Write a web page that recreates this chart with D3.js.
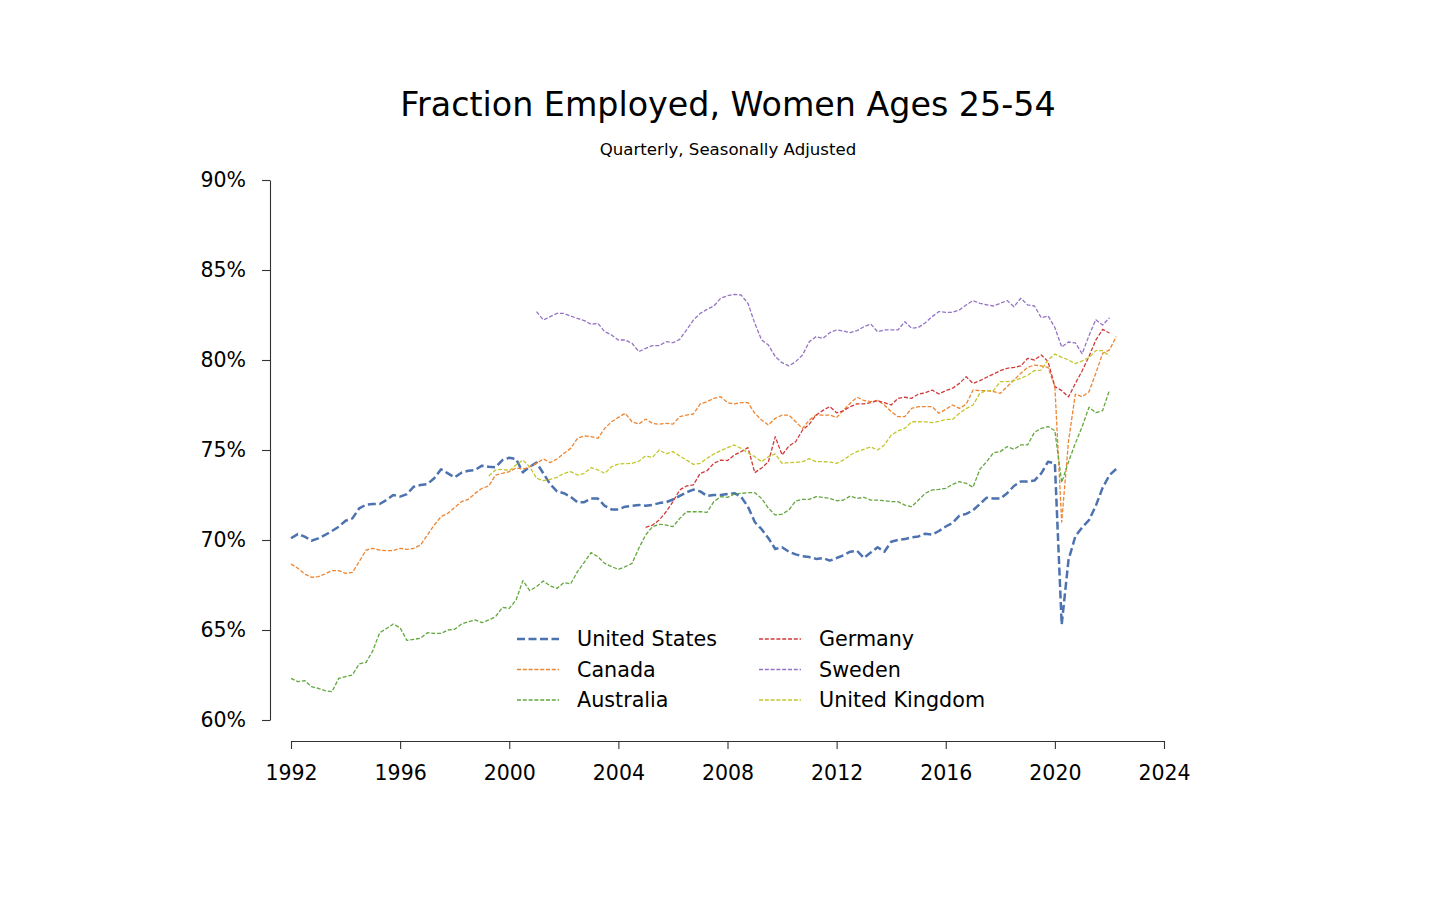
<!DOCTYPE html>
<html>
<head>
<meta charset="utf-8">
<script src="https://cdn.jsdelivr.net/npm/d3@7"></script>
<style>
  html, body { margin: 0; padding: 0; background: #fff; }
  svg { display: block; font-family: "DejaVu Sans", sans-serif; }
</style>
</head>
<body>
<svg id="chart" width="1456" height="900"></svg>
<script>
// ---------- data (quarterly, percent) ----------
const seriesNames = ["United States", "Canada", "Australia", "Germany", "Sweden", "United Kingdom"];
const seriesStart = [1992.0, 1992.0, 1992.0, 2005.0, 2001.0, 1999.25];

const usValues = [
  70.1, 70.33, 70.19, 69.96,  70.09, 70.28, 70.5, 70.74,  71.07, 71.2, 71.76, 71.96,
  72.0, 72.0, 72.22, 72.5,  72.41, 72.55, 72.96, 73.06,  73.11, 73.43, 73.93, 73.7,
  73.48, 73.74, 73.85, 73.89,  74.13, 74.07, 74.04, 74.44,  74.57, 74.5, 73.76, 74.07,
  74.3, 73.7, 73.1, 72.7,  72.6, 72.4, 72.1, 72.1,  72.3, 72.3, 71.9, 71.7,
  71.7, 71.85, 71.9, 71.95,  71.9, 71.95, 72.05, 72.1,  72.25, 72.45, 72.65, 72.8,
  72.7, 72.45, 72.5, 72.5,  72.55, 72.6, 72.4, 71.85,  71.0, 70.6, 70.1, 69.5,
  69.6, 69.35, 69.2, 69.1,  69.05, 68.95, 69.0, 68.85,  69.0, 69.15, 69.35, 69.4,
  69.0, 69.3, 69.6, 69.35,  69.9, 70.0, 70.05, 70.15,  70.2, 70.35, 70.3, 70.5,
  70.75, 70.95, 71.35, 71.45,  71.65, 72.0, 72.35, 72.3,  72.3, 72.6, 73.0, 73.25,
  73.25, 73.3, 73.7, 74.35,  74.25, 65.3, 68.9, 70.2,  70.7, 71.1, 71.9, 72.9,
  73.6, 73.95
];
const canadaValues = [
  68.67, 68.43, 68.11, 67.93,  67.96, 68.11, 68.3, 68.3,  68.15, 68.2, 68.8, 69.44,
  69.54, 69.44, 69.41, 69.41,  69.54, 69.48, 69.54, 69.72,  70.28, 70.83, 71.3, 71.48,
  71.81, 72.13, 72.26, 72.59,  72.87, 73.0, 73.61, 73.7,  73.8, 74.0, 73.93, 74.07,
  74.26, 74.5, 74.3, 74.5,  74.81, 75.09, 75.65, 75.78,  75.74, 75.65, 76.2, 76.57,
  76.81, 77.04, 76.57, 76.44,  76.72, 76.48, 76.43, 76.48,  76.44, 76.85, 76.94, 77.0,
  77.56, 77.69, 77.87, 77.96,  77.63, 77.56, 77.63, 77.63,  77.04, 76.67, 76.39, 76.76,
  76.94, 76.94, 76.57, 76.2,  76.67, 76.94, 76.94, 76.94,  76.81, 77.2, 77.6, 77.93,
  77.75, 77.69, 77.75, 77.5,  77.13, 76.85, 76.85, 77.31,  77.41, 77.41, 77.41, 77.04,
  77.26, 77.5, 77.31, 77.55,  78.33, 78.3, 78.3, 78.24,  78.15, 78.52, 78.89, 79.26,
  79.59, 79.72, 79.67, 79.59,  78.52, 71.0, 75.5, 78.1,  77.96, 78.24, 79.26, 80.37,
  80.56, 81.3
];
const australiaValues = [
  62.31, 62.13, 62.19, 61.85,  61.76, 61.63, 61.57, 62.31,  62.41, 62.5, 63.12, 63.2,
  63.85, 64.85, 65.08, 65.33,  65.12, 64.42, 64.48, 64.54,  64.85, 64.81, 64.81, 65.0,
  65.04, 65.33, 65.46, 65.56,  65.41, 65.56, 65.74, 66.26,  66.2, 66.67, 67.74, 67.19,
  67.41, 67.72, 67.45, 67.31,  67.63, 67.56, 68.24, 68.76,  69.3, 69.07, 68.7, 68.52,
  68.37, 68.52, 68.7, 69.54,  70.28, 70.74, 70.87, 70.83,  70.74, 71.2, 71.57, 71.57,
  71.57, 71.54, 72.13, 72.41,  72.37, 72.54, 72.59, 72.63,  72.63, 72.31, 71.76, 71.39,
  71.44, 71.67, 72.17, 72.26,  72.26, 72.41, 72.37, 72.31,  72.18, 72.22, 72.44, 72.31,
  72.37, 72.22, 72.22, 72.18,  72.13, 72.13, 71.94, 71.85,  72.22, 72.59, 72.78, 72.81,
  72.87, 73.09, 73.24, 73.15,  72.93, 73.93, 74.35, 74.85,  74.91, 75.19, 75.04, 75.28,
  75.28, 75.98, 76.2, 76.3,  76.07, 73.2, 74.35, 75.37,  76.3, 77.37, 77.07, 77.19,
  78.33
];
const germanyValues = [
  70.7, 70.83, 71.11, 71.57,  72.13, 72.78, 73.0, 73.06,  73.7, 73.85, 74.26, 74.44,
  74.41, 74.72, 74.91, 75.13,  73.74, 74.0, 74.35, 75.74,  74.72, 75.22, 75.46, 76.11,
  76.44, 76.94, 77.2, 77.41,  77.07, 77.18, 77.41, 77.56,  77.56, 77.63, 77.74, 77.63,
  77.5, 77.87, 77.93, 77.87,  78.11, 78.18, 78.33, 78.11,  78.3, 78.43, 78.7, 79.07,
  78.7, 78.85, 79.04, 79.22,  79.41, 79.54, 79.59, 79.67,  80.09, 80.0, 80.28, 79.91,
  78.52, 78.3, 77.95, 78.7,  79.4, 80.2, 81.1, 81.7,  81.5
];
const swedenValues = [
  82.69, 82.22, 82.41, 82.59,  82.59, 82.44, 82.31, 82.19,  81.98, 82.04, 81.57, 81.39,
  81.11, 81.11, 80.93, 80.46,  80.65, 80.8, 80.8, 81.02,  80.96, 81.15, 81.67, 82.22,
  82.59, 82.81, 83.0, 83.43,  83.57, 83.65, 83.61, 83.15,  82.04, 81.11, 80.83, 80.19,
  79.85, 79.67, 79.91, 80.28,  81.02, 81.3, 81.2, 81.52,  81.67, 81.61, 81.52, 81.63,
  81.85, 82.0, 81.57, 81.67,  81.67, 81.67, 82.13, 81.76,  81.81, 82.07, 82.41, 82.69,
  82.65, 82.65, 82.78, 83.06,  83.3, 83.15, 83.07, 83.0,  83.15, 83.3, 82.96, 83.43,
  83.06, 83.0, 82.35, 82.45,  81.8, 80.72, 81.0, 80.95,  80.35, 81.35, 82.24, 81.94,
  82.35
];
const ukValues = [
  73.56, 73.89, 73.93,  73.85, 74.17, 74.44, 74.07,  73.43, 73.3, 73.37, 73.48,
  73.7, 73.8, 73.61, 73.7,  74.02, 73.89, 73.7, 74.07,  74.22, 74.24, 74.26, 74.37,
  74.67, 74.59, 75.0, 74.78,  74.91, 74.67, 74.44, 74.2,  74.26, 74.54, 74.78, 74.96,
  75.13, 75.28, 75.09, 74.85,  74.63, 74.35, 74.63, 74.78,  74.26, 74.3, 74.31, 74.35,
  74.52, 74.35, 74.35, 74.33,  74.26, 74.44, 74.72, 74.91,  75.04, 75.17, 75.0, 75.28,
  75.83, 76.06, 76.2, 76.57,  76.57, 76.56, 76.52, 76.59,  76.7, 76.7, 77.04, 77.3,
  77.5, 78.15, 78.3, 78.3,  78.8, 78.8, 78.85, 78.98,  79.15, 79.41, 79.44, 80.0,
  80.33, 80.15, 80.0, 79.8,  79.95, 80.13, 80.52, 80.52,  80.22
];
const seriesValues = [usValues, canadaValues, australiaValues, germanyValues, swedenValues, ukValues];

const xTicks = [1992, 1996, 2000, 2004, 2008, 2012, 2016, 2020, 2024];
const yTicks = [60, 65, 70, 75, 80, 85, 90];

const titleText = "Fraction Employed, Women Ages 25-54";
const subtitleText = "Quarterly, Seasonally Adjusted";

// ---------- styles ----------
const colors = ["#4c72b0", "#ee8530", "#64a63f", "#d03a3a", "#9474c4", "#c4c62e"];
const widths = [2.5, 1.3, 1.3, 1.3, 1.3, 1.3];
const dashes = ["8,3.5", "4,1.8", "4,1.8", "4,1.8", "4,1.8", "4,1.8"];

// ---------- drawing ----------
const svg = d3.select("#chart");

const x = d3.scaleLinear().domain([1992, 2024]).range([291, 1164]);
const y = d3.scaleLinear().domain([60, 90]).range([720, 180]);

svg.append("text")
  .attr("x", 728).attr("y", 116)
  .attr("text-anchor", "middle")
  .attr("font-size", 33.3)
  .attr("fill", "#000")
  .text(titleText);

svg.append("text")
  .attr("x", 728).attr("y", 155)
  .attr("text-anchor", "middle")
  .attr("font-size", 16.6)
  .attr("fill", "#000")
  .text(subtitleText);

// y axis (offset spine)
const yAxis = d3.axisLeft(y).tickValues(yTicks).tickFormat(d => d + "%")
  .tickSize(8).tickSizeOuter(0).tickPadding(16);
const gy = svg.append("g").attr("transform", "translate(270,0)").call(yAxis);
gy.selectAll("text").attr("font-size", 20.5).attr("fill", "#000").attr("font-family", "DejaVu Sans");
gy.selectAll("line, path").attr("stroke", "#333").attr("stroke-width", 1.1);

// x axis (offset spine)
const xAxis = d3.axisBottom(x).tickValues(xTicks).tickFormat(d3.format("d"))
  .tickSize(8).tickSizeOuter(0).tickPadding(16);
const gx = svg.append("g").attr("transform", "translate(0,741)").call(xAxis);
gx.selectAll("text").attr("font-size", 20.5).attr("fill", "#000").attr("font-family", "DejaVu Sans");
gx.selectAll("line, path").attr("stroke", "#333").attr("stroke-width", 1.1);

// lines
const line = d3.line().x(d => x(d.t)).y(d => y(d.v));
seriesValues.forEach((vals, i) => {
  const pts = vals.map((v, k) => ({ t: seriesStart[i] + k * 0.25, v }));
  svg.append("path")
    .datum(pts)
    .attr("d", line)
    .attr("fill", "none")
    .attr("stroke", colors[i])
    .attr("stroke-width", widths[i])
    .attr("stroke-dasharray", dashes[i])
    .attr("stroke-linejoin", "round");
});

// legend
const legend = svg.append("g");
const colX = [517, 759];
const rowY = [639, 669.5, 700];
seriesNames.forEach((name, i) => {
  const c = Math.floor(i / 3), r = i % 3;
  const lx = colX[c], ly = rowY[r];
  legend.append("line")
    .attr("x1", lx).attr("x2", lx + 42)
    .attr("y1", ly).attr("y2", ly)
    .attr("stroke", colors[i])
    .attr("stroke-width", widths[i])
    .attr("stroke-dasharray", dashes[i]);
  legend.append("text")
    .attr("x", lx + 60).attr("y", ly + 7)
    .attr("font-size", 20.7)
    .attr("fill", "#000")
    .text(name);
});
</script>
</body>
</html>
